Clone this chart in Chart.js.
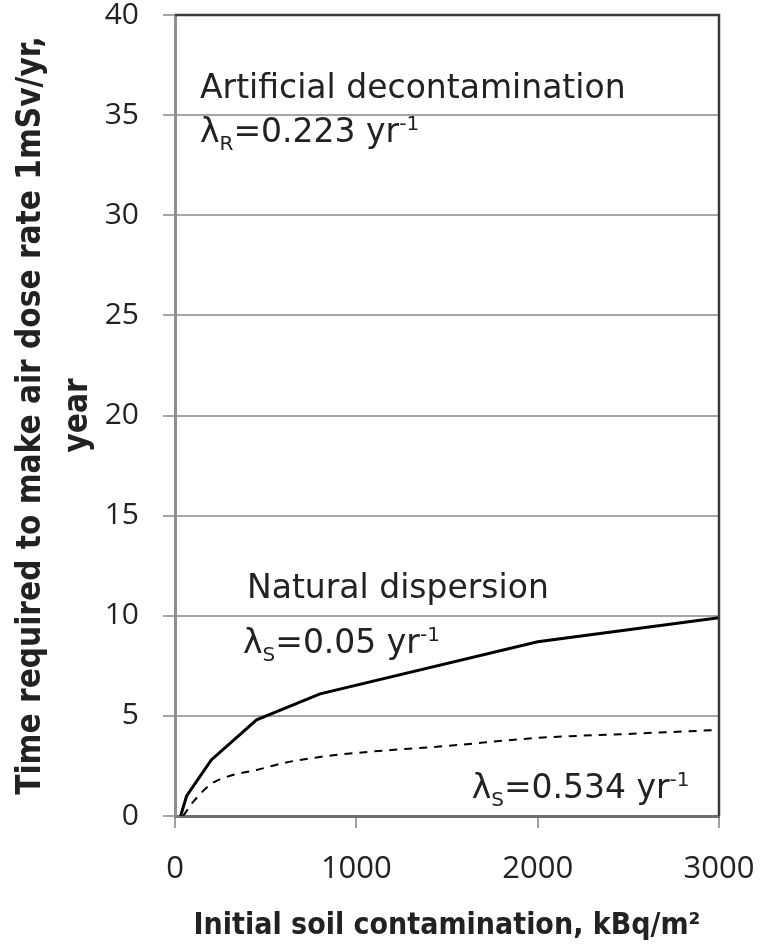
<!DOCTYPE html>
<html>
<head>
<meta charset="utf-8">
<script src="https://cdn.jsdelivr.net/npm/chart.js@4/dist/chart.umd.min.js"></script>
<style>
  body { margin: 0; background: #fff; }
  #wrap { width: 771px; height: 944px; position: relative; }
</style>
</head>
<body>
<div id="wrap"><canvas id="myChart"></canvas></div>
<script>
// natural dispersion, lambda_S = 0.05 /yr (solid)
const contaminationSlow = [31, 64, 200, 450, 800, 2000, 3000];
const yearsSlow = [0, 1.0, 2.8, 4.8, 6.1, 8.7, 9.9];
// lambda_S = 0.534 /yr (dashed)
const contaminationFast = [45, 100, 200, 300, 450, 600, 800, 1000, 1500, 2000, 2500, 3000];
const yearsFast = [0, 0.7, 1.6, 2.0, 2.3, 2.65, 2.95, 3.15, 3.5, 3.9, 4.1, 4.3];

const xTicks = [0, 1000, 2000, 3000];
const yTicks = [0, 5, 10, 15, 20, 25, 30, 35, 40];

const xTitle = 'Initial soil contamination, kBq/m\u00B2';
const yTitle = ['Time required to make air dose rate 1mSv/yr,', 'year'];

// text notes, placed in data units
const notes = [
  {x: 138, y: 35.85, parts: [{t: 'Artificial decontamination'}]},
  {x: 138, y: 33.65, parts: [{t: '\u03BB'}, {t: 'R', sub: true}, {t: '=0.223 yr'}, {t: '-1', sup: true}]},
  {x: 397, y: 10.9, parts: [{t: 'Natural dispersion'}]},
  {x: 375, y: 8.15, parts: [{t: '\u03BB'}, {t: 'S', sub: true}, {t: '=0.05 yr'}, {t: '-1', sup: true}]},
  {x: 1636, y: 0.9, parts: [{t: '\u03BB'}, {t: 'S', sub: true}, {t: '=0.534 yr'}, {t: '-1', sup: true}]}
];

function toPoints(xs, ys) {
  return xs.map(function (v, i) { return {x: v, y: ys[i]}; });
}

const notesPlugin = {
  id: 'notes',
  afterDatasetsDraw(chart) {
    const ctx = chart.ctx;
    const xs = chart.scales.x, ys = chart.scales.y;
    ctx.save();
    ctx.fillStyle = '#222';
    ctx.textBaseline = 'alphabetic';
    ctx.textAlign = 'left';
    notes.forEach(function (n) {
      let cx = xs.getPixelForValue(n.x);
      const cy = ys.getPixelForValue(n.y);
      n.parts.forEach(function (p) {
        const size = (p.sub || p.sup) ? 20 : 33;
        const dy = p.sub ? 8 : (p.sup ? -12 : 0);
        ctx.font = size + 'px "DejaVu Sans"';
        ctx.fillText(p.t, cx, cy + dy);
        cx += ctx.measureText(p.t).width;
      });
    });
    // plot frame top / right
    const a = chart.chartArea;
    ctx.strokeStyle = '#3a3a3a';
    ctx.lineWidth = 2.5;
    ctx.beginPath();
    ctx.moveTo(a.left, a.top);
    ctx.lineTo(a.right, a.top);
    ctx.lineTo(a.right, a.bottom);
    ctx.stroke();
    ctx.restore();
  }
};

var ctx = document.getElementById('myChart').getContext('2d');
var chart = new Chart(ctx, {
  type: 'line',
  data: {
    datasets: [{
      label: 'lambda_S=0.05',
      data: toPoints(contaminationSlow, yearsSlow),
      borderColor: '#000',
      borderWidth: 3,
      pointRadius: 0,
      tension: 0
    }, {
      label: 'lambda_S=0.534',
      data: toPoints(contaminationFast, yearsFast),
      borderColor: '#000',
      borderWidth: 2,
      borderDash: [8, 7],
      pointRadius: 0,
      cubicInterpolationMode: 'monotone'
    }]
  },
  options: {
    responsive: true,
    maintainAspectRatio: false,
    animation: false,
    layout: { padding: { top: 15, right: 52, left: 0, bottom: 0 } },
    plugins: { legend: { display: false }, tooltip: { enabled: false } },
    scales: {
      x: {
        type: 'linear',
        min: 0,
        max: 3000,
        afterBuildTicks: function (s) { s.ticks = xTicks.map(function (v) { return {value: v}; }); },
        afterFit: function (s) { s.height = 128; s.paddingLeft = 0; s.paddingRight = 0; },
        grid: { drawOnChartArea: false, drawTicks: true, tickLength: 12, color: '#a0a0a0', lineWidth: 2 },
        border: { color: '#6e6e6e', width: 3 },
        ticks: {
          color: '#222', padding: 23, font: { family: 'Open Sans', size: 31 },
          callback: function (v) { return String(v); }
        },
        title: {
          display: true,
          text: xTitle,
          color: '#222',
          padding: { top: 0, bottom: 0 },
          font: { family: "'DejaVu Sans Condensed', sans-serif", size: 30, weight: 'bold' }
        }
      },
      y: {
        min: 0,
        max: 40,
        afterBuildTicks: function (s) { s.ticks = yTicks.map(function (v) { return {value: v}; }); },
        afterFit: function (s) { s.width = 175; s.paddingTop = 0; s.paddingBottom = 0; },
        grid: { color: '#a6a6a6', lineWidth: 2, drawTicks: true, tickLength: 12 },
        border: { color: '#8f8f8f', width: 3 },
        ticks: { color: '#222', padding: 24, font: { family: 'Open Sans', size: 30 } },
        title: {
          display: true,
          text: yTitle,
          color: '#222',
          padding: { top: 7, bottom: 0 },
          font: { family: "'DejaVu Sans Condensed', sans-serif", size: 33, weight: 'bold', lineHeight: 1.45 }
        }
      }
    }
  },
  plugins: [notesPlugin]
});
</script>
</body>
</html>
